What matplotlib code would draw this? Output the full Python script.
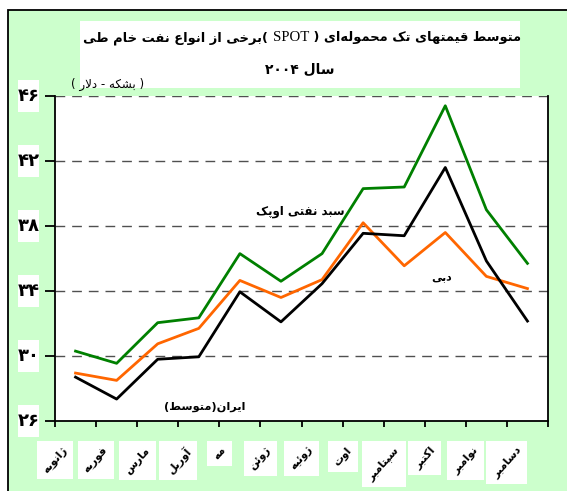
import matplotlib
matplotlib.use("Agg")
import matplotlib.pyplot as plt
from matplotlib.patches import Rectangle
from matplotlib.offsetbox import TextArea, HPacker, AnnotationBbox
import matplotlib.transforms as mtransforms

# ---------------- data ----------------
months = ["ژانویه", "فوریه", "مارس", "آوریل", "مه", "ژوئن",
          "ژوئیه", "اوت", "سپتامبر", "اکتبر", "نوامبر", "دسامبر"]
opec_basket = [30.3, 29.55, 32.05, 32.35, 36.3, 34.6, 36.3, 40.3, 40.4, 45.4, 39.0, 35.7]
dubai = [28.95, 28.5, 30.75, 31.7, 34.65, 33.6, 34.7, 38.2, 35.55, 37.6, 34.9, 34.15]
iran_avg = [28.7, 27.35, 29.8, 29.95, 33.95, 32.1, 34.45, 37.55, 37.4, 41.6, 35.85, 32.15]
yticks = [26, 30, 34, 38, 42, 46]
ytick_labels = ["۲۶", "۳۰", "۳۴", "۳۸", "۴۲", "۴۶"]
title_line1 = "متوسط قیمتهای تک محموله\u200cای ( SPOT )برخی از انواع نفت خام طی"
title_line2 = "سال ۲۰۰۴"
unit_label = "( بشکه - دلار )"
series_labels = ["سبد نفتی اوپک", "دبی", "ایران(متوسط)"]

# ---------------- minimal Persian shaping + bidi ----------------
FORMS = {
    'ا': ('\uFE8D', '\uFE8E', None, None),
    'آ': ('\uFE81', '\uFE82', None, None),
    'د': ('\uFEA9', '\uFEAA', None, None),
    'ذ': ('\uFEAB', '\uFEAC', None, None),
    'ر': ('\uFEAD', '\uFEAE', None, None),
    'ز': ('\uFEAF', '\uFEB0', None, None),
    'ژ': ('\uFB8A', '\uFB8B', None, None),
    'و': ('\uFEED', '\uFEEE', None, None),
    'ب': ('\uFE8F', '\uFE90', '\uFE91', '\uFE92'),
    'پ': ('\uFB56', '\uFB57', '\uFB58', '\uFB59'),
    'ت': ('\uFE95', '\uFE96', '\uFE97', '\uFE98'),
    'ث': ('\uFE99', '\uFE9A', '\uFE9B', '\uFE9C'),
    'ج': ('\uFE9D', '\uFE9E', '\uFE9F', '\uFEA0'),
    'چ': ('\uFB7A', '\uFB7B', '\uFB7C', '\uFB7D'),
    'ح': ('\uFEA1', '\uFEA2', '\uFEA3', '\uFEA4'),
    'خ': ('\uFEA5', '\uFEA6', '\uFEA7', '\uFEA8'),
    'س': ('\uFEB1', '\uFEB2', '\uFEB3', '\uFEB4'),
    'ش': ('\uFEB5', '\uFEB6', '\uFEB7', '\uFEB8'),
    'ص': ('\uFEB9', '\uFEBA', '\uFEBB', '\uFEBC'),
    'ض': ('\uFEBD', '\uFEBE', '\uFEBF', '\uFEC0'),
    'ط': ('\uFEC1', '\uFEC2', '\uFEC3', '\uFEC4'),
    'ظ': ('\uFEC5', '\uFEC6', '\uFEC7', '\uFEC8'),
    'ع': ('\uFEC9', '\uFECA', '\uFECB', '\uFECC'),
    'غ': ('\uFECD', '\uFECE', '\uFECF', '\uFED0'),
    'ف': ('\uFED1', '\uFED2', '\uFED3', '\uFED4'),
    'ق': ('\uFED5', '\uFED6', '\uFED7', '\uFED8'),
    'ک': ('\uFB8E', '\uFB8F', '\uFB90', '\uFB91'),
    'گ': ('\uFB92', '\uFB93', '\uFB94', '\uFB95'),
    'ل': ('\uFEDD', '\uFEDE', '\uFEDF', '\uFEE0'),
    'م': ('\uFEE1', '\uFEE2', '\uFEE3', '\uFEE4'),
    'ن': ('\uFEE5', '\uFEE6', '\uFEE7', '\uFEE8'),
    'ه': ('\uFEE9', '\uFEEA', '\uFEEB', '\uFEEC'),
    'ی': ('\uFBFC', '\uFBFD', '\uFBFE', '\uFBFF'),
    'ئ': ('\uFE89', '\uFE8A', '\uFE8B', '\uFE8C'),
}


def _dual(c):
    return c in FORMS and FORMS[c][2] is not None


def _joins(c):
    return c in FORMS


def shape(s):
    chars = list(s)
    out = []
    i = 0
    n = len(chars)
    while i < n:
        c = chars[i]
        prev = chars[i - 1] if i > 0 else None
        jp = prev is not None and _dual(prev)
        if c == 'ل' and i + 1 < n and chars[i + 1] in 'اآ':
            if chars[i + 1] == 'ا':
                out.append('\uFEFC' if jp else '\uFEFB')
            else:
                out.append('\uFEF6' if jp else '\uFEF5')
            i += 2
            continue
        if c in FORMS:
            nxt = chars[i + 1] if i + 1 < n else None
            jn = _dual(c) and nxt is not None and _joins(nxt)
            iso, fin, ini, med = FORMS[c]
            if jp and jn:
                g = med
            elif jp:
                g = fin
            elif jn:
                g = ini
            else:
                g = iso
            out.append(g)
        elif c == '\u200c':
            pass
        else:
            out.append(c)
        i += 1
    return out


MIRROR = {'(': ')', ')': '('}


def _is_ltr(c):
    return (c.isascii() and c.isalnum()) or ('\u06F0' <= c <= '\u06F9')


def visual(s):
    g = shape(s)
    runs = []
    for c in g:
        f = _is_ltr(c)
        if runs and runs[-1][0] == f:
            runs[-1][1].append(c)
        else:
            runs.append([f, [c]])
    res = []
    for f, cs in reversed(runs):
        if f:
            res.append(''.join(cs))
        else:
            res.append(''.join(MIRROR.get(c, c) for c in reversed(cs)))
    return ''.join(res)


# ---------------- figure ----------------
W, H = 567, 491
fig = plt.figure(figsize=(W / 100, H / 100), dpi=100)
fig.patch.set_facecolor('white')

AR = ['DejaVu Sans']


def px_rect(x0, y0, x1, y1, **kw):
    """rectangle given in top-origin pixel coords"""
    r = Rectangle((x0 / W, (H - y1) / H), (x1 - x0) / W, (y1 - y0) / H,
                  transform=fig.transFigure, **kw)
    fig.patches.append(r)
    return r


# green frame
fig.patches.append(Rectangle((8 / W, -0.2), 1.3, (H - 10) / H + 0.2,
                             transform=fig.transFigure, fc='#CCFFCC',
                             ec='black', lw=1.3, zorder=-10))
# white title box
px_rect(80, 21, 520, 88, fc='white', ec='none', zorder=-5)

ax_l, ax_r, ax_t, ax_b = 55, 548, 96, 421
ax = fig.add_axes([ax_l / W, (H - ax_b) / H, (ax_r - ax_l) / W, (ax_b - ax_t) / H])
ax.set_facecolor('white')

x = list(range(len(months)))
ax.plot(x, opec_basket, color='#008000', lw=2.0, zorder=3)
ax.plot(x, dubai, color='#FF6600', lw=2.0, zorder=3)
ax.plot(x, iran_avg, color='black', lw=2.0, zorder=3)

ax.set_xlim(-0.5, len(months) - 0.5)
ax.set_ylim(26, 46)

for v in yticks[1:]:
    ax.axhline(v, color='#505050', lw=1.0, ls=(0, (7, 5)), zorder=1)

ax.spines['top'].set_visible(False)
for s in ['left', 'right', 'bottom']:
    ax.spines[s].set_color('black')
    ax.spines[s].set_linewidth(1.3)

ax.set_yticks(yticks)
ax.set_yticklabels([])
ax.tick_params(axis='y', direction='out', length=7, width=1.3, color='black')
ax.set_xticks([i - 0.5 for i in range(len(months) + 1)])
ax.set_xticklabels([])
ax.tick_params(axis='x', direction='out', length=4, width=1.3, color='black')

# y tick labels in white boxes
ytr = ax.get_yaxis_transform()
for v, lab in zip(yticks, ytick_labels):
    ypx = ax_t + (46 - v) / 20 * (ax_b - ax_t)
    px_rect(18, ypx - 16, 39, ypx + 16, fc='white', ec='none', zorder=-4)
    ax.text(-(ax_l - 28.5) / (ax_r - ax_l), v, visual(lab), transform=ytr,
            ha='center', va='center', fontsize=13, fontweight='bold',
            family=AR, clip_on=False)

# month labels (centred on the category boundaries, as in the original)
xtr = ax.get_xaxis_transform()
month_texts = []
for i, m in enumerate(months):
    t = ax.text(i - 0.5, -(445 - ax_b) / (ax_b - ax_t), visual(m), transform=xtr,
                rotation=48, ha='center', va='top', fontsize=7.8,
                fontweight='bold', family=AR, clip_on=False, zorder=5)
    month_texts.append(t)

# series labels
def data_from_px(px, py):
    xd = -0.5 + (px - ax_l) / (ax_r - ax_l) * len(months)
    yd = 46 - (py - ax_t) / (ax_b - ax_t) * 20
    return xd, yd

for lab, (px, py), fs in zip(series_labels, [(300, 211), (442, 277), (205, 407)],
                            [8.5, 7.8, 8.2]):
    xd, yd = data_from_px(px, py)
    ax.text(xd, yd, visual(lab), ha='center', va='center', fontsize=fs,
            fontweight='bold', family=AR, zorder=4)

# unit label
fig.text(108 / W, (H - 84) / H, visual(unit_label), ha='center', va='center',
         fontsize=8.5, family=AR)

# title line 1 (with serif SPOT)
vis1 = visual(title_line1)
k = vis1.index('SPOT')
left_part, mid_part, right_part = vis1[:k], 'SPOT', vis1[k + 4:]
tfs = 9.4
ta1 = TextArea(left_part, textprops=dict(fontsize=tfs, fontweight='bold', family=AR))
ta2 = TextArea(mid_part, textprops=dict(fontsize=tfs + 1.2, family=['Liberation Serif']))
ta3 = TextArea(right_part, textprops=dict(fontsize=tfs, fontweight='bold', family=AR))
box = HPacker(children=[ta1, ta2, ta3], sep=0, pad=0, align='baseline')
ab = AnnotationBbox(box, (302 / W, (H - 38) / H), xycoords='figure fraction',
                    frameon=False, box_alignment=(0.5, 0.5))
fig.add_artist(ab)

fig.text(300 / W, (H - 70) / H, visual(title_line2), ha='center', va='center',
         fontsize=10, fontweight='bold', family=AR)

# axis-aligned white boxes behind the rotated month labels
fig.canvas.draw()
renderer = fig.canvas.get_renderer()
for t in month_texts:
    bb = t.get_window_extent(renderer)
    pad = 4
    fig.patches.append(Rectangle((bb.x0 - pad, bb.y0 - pad), bb.width + 2 * pad,
                                 bb.height + 2 * pad,
                                 transform=mtransforms.IdentityTransform(),
                                 fc='white', ec='none', zorder=-4))

fig.savefig('out.png', dpi=100, facecolor=fig.get_facecolor())
